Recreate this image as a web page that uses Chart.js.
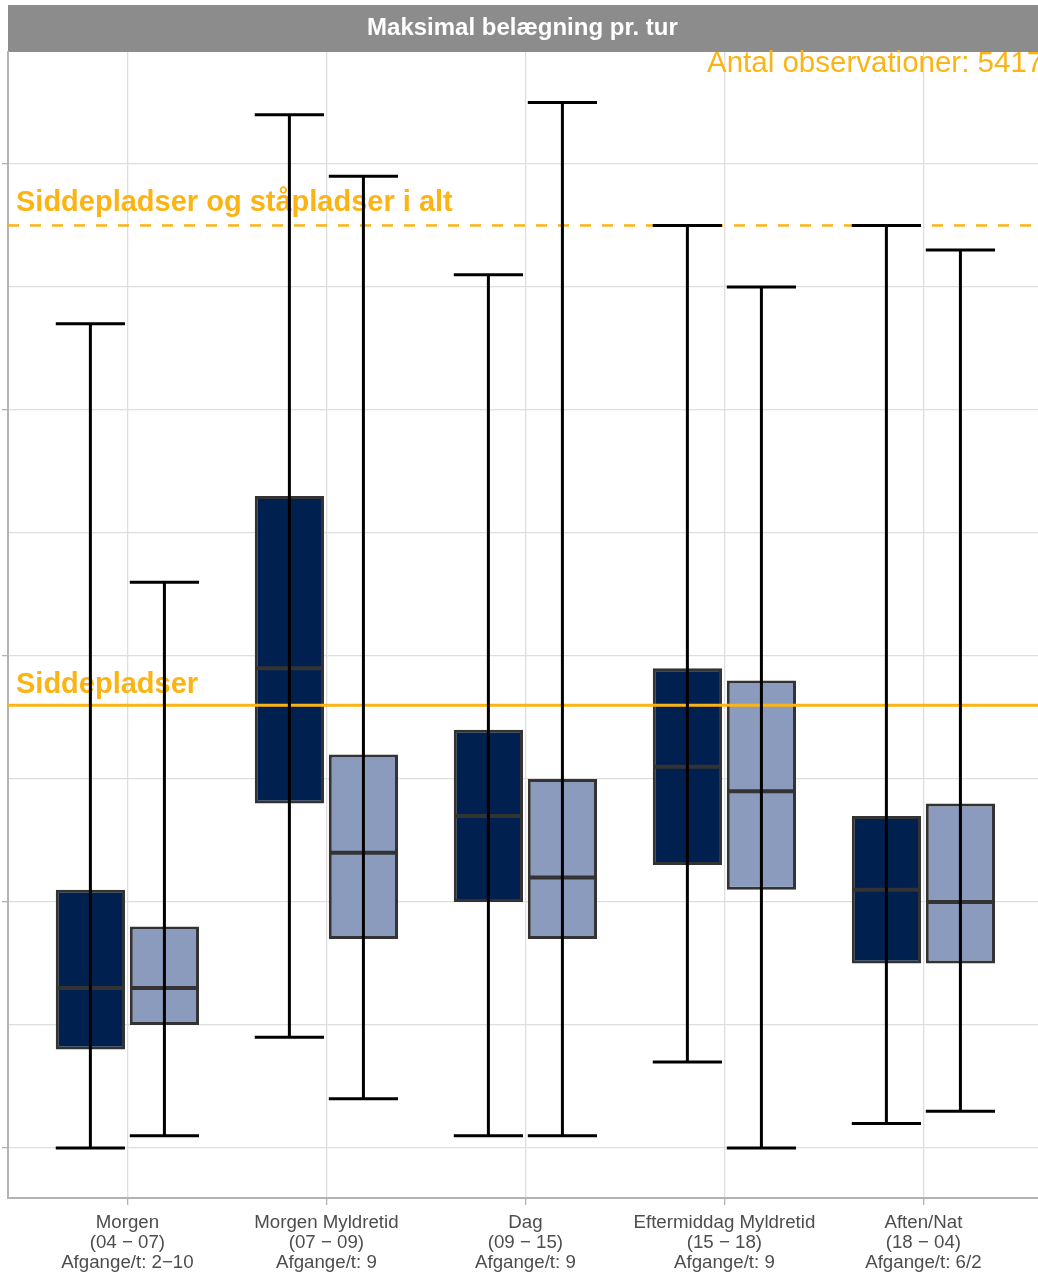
<!DOCTYPE html>
<html>
<head>
<meta charset="utf-8">
<script src="https://cdn.jsdelivr.net/npm/chart.js@4.4.1/dist/chart.umd.min.js"></script>
<style>
  html, body { margin: 0; padding: 0; overflow: hidden; background: #fff; }
  #wrap { width: 1044px; height: 1285px; }
</style>
</head>
<body>
<div id="wrap"><canvas id="chart"></canvas></div>
<script>
const categories = [
  ["Morgen", "(04 \u2212 07)", "Afgange/t: 2\u221210"],
  ["Morgen Myldretid", "(07 \u2212 09)", "Afgange/t: 9"],
  ["Dag", "(09 \u2212 15)", "Afgange/t: 9"],
  ["Eftermiddag Myldretid", "(15 \u2212 18)", "Afgange/t: 9"],
  ["Aften/Nat", "(18 \u2212 04)", "Afgange/t: 6/2"]
];

// boxplot stats, first series (dark)
const darkMin = [0, 4.5, 0.5, 3.5, 1.0];
const darkQ1  = [4.0, 14.0, 10.0, 11.5, 7.5];
const darkMed = [6.5, 19.5, 13.5, 15.5, 10.5];
const darkQ3  = [10.5, 26.5, 17.0, 19.5, 13.5];
const darkMax = [33.5, 42.0, 35.5, 37.5, 37.5];

// second series (light)
const lightMin = [0.5, 2.0, 0.5, 0, 1.5];
const lightQ1  = [5.0, 8.5, 8.5, 10.5, 7.5];
const lightMed = [6.5, 12.0, 11.0, 14.5, 10.0];
const lightQ3  = [9.0, 16.0, 15.0, 19.0, 14.0];
const lightMax = [23.0, 39.5, 42.5, 35.0, 36.5];

const seatsLine = 18;
const totalLine = 37.5;
const seatsLabel = "Siddepladser";
const totalLabel = "Siddepladser og ståpladser i alt";
const obsLabel = "Antal observationer: 5417";
const titleText = "Maksimal belægning pr. tur";

const yTicks = [0, 5, 10, 15, 20, 25, 30, 35, 40];
const majorTicks = [0, 10, 20, 30, 40];

const ORANGE = "#FCB414";

Chart.defaults.font.family = "'Liberation Sans', Arial, sans-serif";

const boxExtras = {
  id: 'boxExtras',
  beforeDraw(chart) {
    // grey strip behind the title
    const ctx = chart.ctx;
    const area = chart.chartArea;
    ctx.save();
    ctx.fillStyle = '#8C8C8C';
    ctx.fillRect(area.left, 5, chart.width - area.left, area.top - 5);
    ctx.restore();
  },
  afterDatasetsDraw(chart) {
    const ctx = chart.ctx;
    const y = chart.scales.y;
    const area = chart.chartArea;
    const groups = [
      [0, darkMin, darkMed, darkMax],
      [1, lightMin, lightMed, lightMax]
    ];
    ctx.save();

    // medians
    ctx.strokeStyle = '#333333';
    ctx.lineWidth = 4;
    groups.forEach(([idx, lo, med]) => {
      chart.getDatasetMeta(idx).data.forEach((bar, i) => {
        const py = y.getPixelForValue(med[i]);
        ctx.beginPath();
        ctx.moveTo(bar.x - bar.width / 2 + 1, py);
        ctx.lineTo(bar.x + bar.width / 2 - 1, py);
        ctx.stroke();
      });
    });

    // reference lines
    ctx.strokeStyle = ORANGE;
    ctx.lineWidth = 3;
    let py = y.getPixelForValue(seatsLine);
    ctx.beginPath();
    ctx.moveTo(area.left, py);
    ctx.lineTo(chart.width, py);
    ctx.stroke();

    ctx.lineWidth = 2.5;
    ctx.setLineDash([11, 11]);
    let py2 = y.getPixelForValue(totalLine);
    ctx.beginPath();
    ctx.moveTo(area.left, py2);
    ctx.lineTo(chart.width, py2);
    ctx.stroke();
    ctx.setLineDash([]);

    ctx.fillStyle = ORANGE;
    ctx.font = "bold 29px 'Liberation Sans', Arial, sans-serif";
    ctx.textAlign = 'left';
    ctx.textBaseline = 'alphabetic';
    ctx.fillText(seatsLabel, 16, py - 12);
    ctx.fillText(totalLabel, 16, py2 - 14);

    ctx.font = "29.5px 'Liberation Sans', Arial, sans-serif";
    ctx.fillText(obsLabel, 707, 72);

    // whiskers on top
    ctx.strokeStyle = '#000000';
    ctx.lineWidth = 3;
    groups.forEach(([idx, lo, med, hi]) => {
      chart.getDatasetMeta(idx).data.forEach((bar, i) => {
        const top = y.getPixelForValue(hi[i]);
        const bot = y.getPixelForValue(lo[i]);
        const half = bar.width / 2;
        ctx.beginPath();
        ctx.moveTo(bar.x, top);
        ctx.lineTo(bar.x, bot);
        ctx.moveTo(bar.x - half, top);
        ctx.lineTo(bar.x + half, top);
        ctx.moveTo(bar.x - half, bot);
        ctx.lineTo(bar.x + half, bot);
        ctx.stroke();
      });
    });

    ctx.restore();
  }
};

new Chart(document.getElementById('chart'), {
  type: 'bar',
  data: {
    datasets: [
      {
        label: 'dark',
        data: categories.map((c, i) => ({ x: i + 1, y: [darkQ1[i], darkQ3[i]] })),
        backgroundColor: '#00204F',
        borderColor: '#333333',
        borderWidth: 3,
        borderSkipped: false,
        categoryPercentage: 0.744,
        barPercentage: 0.935
      },
      {
        label: 'light',
        data: categories.map((c, i) => ({ x: i + 1, y: [lightQ1[i], lightQ3[i]] })),
        backgroundColor: '#8A9BBD',
        borderColor: '#333333',
        borderWidth: 3,
        borderSkipped: false,
        categoryPercentage: 0.744,
        barPercentage: 0.935
      }
    ]
  },
  options: {
    responsive: true,
    maintainAspectRatio: false,
    animation: false,
    layout: { padding: { left: 2, right: 1.2, top: 0, bottom: 4 } },
    plugins: {
      legend: { display: false },
      tooltip: { enabled: false },
      title: {
        display: true,
        text: titleText,
        color: '#FFFFFF',
        font: { size: 24, weight: 'bold' },
        padding: { top: 14, bottom: 9.2 }
      }
    },
    scales: {
      x: {
        type: 'linear',
        min: 0.4,
        max: 5.6,
        offset: false,
        stacked: false,
        afterBuildTicks: (axis) => { axis.ticks = categories.map((c, i) => ({ value: i + 1 })); },
        ticks: {
          callback: (v) => categories[v - 1],
          autoSkip: false,
          maxRotation: 0,
          color: '#4D4D4D',
          font: { size: 18.7, lineHeight: 1.07 },
          padding: 8
        },
        grid: { offset: false, color: '#DEDEDE', lineWidth: 1.3, tickLength: 7, tickColor: '#B3B3B3' },
        border: { color: '#B3B3B3', width: 2 }
      },
      y: {
        min: -2.03,
        max: 44.55,
        stacked: false,
        afterBuildTicks: (axis) => { axis.ticks = yTicks.map(v => ({ value: v })); },
        ticks: { display: false },
        grid: {
          color: '#DEDEDE',
          lineWidth: 1.3,
          tickLength: 6,
          tickColor: (ctx) => (ctx.tick && majorTicks.includes(ctx.tick.value)) ? '#B3B3B3' : 'rgba(0,0,0,0)'
        },
        border: { color: '#B3B3B3', width: 2 }
      }
    }
  },
  plugins: [boxExtras]
});
</script>
</body>
</html>
